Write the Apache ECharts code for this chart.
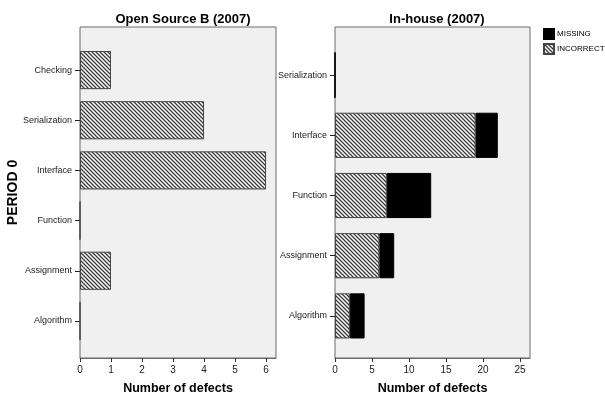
<!DOCTYPE html>
<html>
<head>
<meta charset="utf-8">
<script src="https://cdn.jsdelivr.net/npm/echarts@6/dist/echarts.min.js"></script>
<style>
  html, body { margin: 0; padding: 0; background: #fff; }
  #chart { width: 605px; height: 400px; }
</style>
</head>
<body>
<div id="chart"></div>
<script>
// Defect counts by category, period 0
const leftTitle = 'Open Source B (2007)';
const rightTitle = 'In-house (2007)';
const leftCategories = ['Checking', 'Serialization', 'Interface', 'Function', 'Assignment', 'Algorithm'];
const leftIncorrect = [1, 4, 6, 0, 1, 0];
const rightCategories = ['Serialization', 'Interface', 'Function', 'Assignment', 'Algorithm'];
const rightIncorrect = [0, 19, 7, 6, 2];
const rightMissing = [0, 3, 6, 2, 2];
const leftTicks = [0, 1, 2, 3, 4, 5, 6];
const rightTicks = [0, 5, 10, 15, 20, 25];
const leftMax = 6.32;
const rightMax = 26.35;

// Diagonal hatch fill for the INCORRECT bars
function makeHatch() {
  const s = 4;
  const c = document.createElement('canvas');
  c.width = s; c.height = s;
  const g = c.getContext('2d');
  g.fillStyle = '#ffffff';
  g.fillRect(0, 0, s, s);
  g.strokeStyle = '#3a3a3a';
  g.lineWidth = 1.3;
  g.beginPath();
  g.moveTo(-1, -1); g.lineTo(s + 1, s + 1);
  g.moveTo(-1, s - 1); g.lineTo(1, s + 1);
  g.moveTo(s - 1, -1); g.lineTo(s + 1, 1);
  g.stroke();
  return c;
}
const hatchFill = { image: makeHatch(), repeat: 'repeat' };

const font = 'Liberation Sans, Arial, sans-serif';
const frameColor = '#6a6a6a';

function frameXAxis(gridIndex, max, ticks) {
  return {
    gridIndex, type: 'value', min: 0, max,
    name: 'Number of defects', nameLocation: 'middle', nameGap: 24,
    nameTextStyle: { fontFamily: font, fontSize: 12.5, fontWeight: 'bold', color: '#000' },
    axisLine: { show: true, lineStyle: { color: frameColor, width: 1 } },
    axisTick: { show: true, length: 4, customValues: ticks, lineStyle: { color: '#333' } },
    axisLabel: { show: true, customValues: ticks, margin: 7, fontFamily: font, fontSize: 10, color: '#222' },
    splitLine: { show: false }
  };
}
function dataXAxis(gridIndex, max) {
  return { gridIndex, type: 'value', min: 0, max, show: false, splitLine: { show: false } };
}
function catYAxis(gridIndex, cats) {
  return {
    gridIndex, type: 'category', data: cats, inverse: true,
    axisLine: { show: false },
    axisTick: { show: true, alignWithLabel: true, length: 5, lineStyle: { color: '#222' } },
    axisLabel: { fontFamily: font, fontSize: 9, color: '#222', margin: 8 },
    splitLine: { show: false }
  };
}

const barBorder = { borderColor: '#444', borderWidth: 1 };

const option = {
  animation: false,
  backgroundColor: '#ffffff',
  title: [
    { text: leftTitle, left: 178, top: 8, textAlign: 'center',
      textStyle: { fontFamily: font, fontSize: 13, fontWeight: 'bold', color: '#000' } },
    { text: rightTitle, left: 432, top: 8, textAlign: 'center',
      textStyle: { fontFamily: font, fontSize: 13, fontWeight: 'bold', color: '#000' } }
  ],
  legend: {
    data: ['MISSING', 'INCORRECT'],
    orient: 'vertical', left: 543, top: 28, padding: 0,
    itemWidth: 10, itemHeight: 10, itemGap: 3,
    icon: 'rect',
    textStyle: { fontFamily: font, fontSize: 8, color: '#000', padding: [0, 0, 0, -2] },
    selectedMode: false
  },
  grid: [
    { left: 80, top: 27, width: 196, height: 335, show: true, backgroundColor: '#f0f0f0', borderColor: frameColor, borderWidth: 1 },
    { left: 80, top: 45, width: 196, height: 301 },
    { left: 335, top: 27, width: 195, height: 335, show: true, backgroundColor: '#f0f0f0', borderColor: frameColor, borderWidth: 1 },
    { left: 335, top: 45, width: 195, height: 301 }
  ],
  xAxis: [
    frameXAxis(0, leftMax, leftTicks),
    dataXAxis(1, leftMax),
    frameXAxis(2, rightMax, rightTicks),
    dataXAxis(3, rightMax)
  ],
  yAxis: [
    { gridIndex: 0, type: 'value', min: 0, max: 1,
      name: 'PERIOD 0', nameLocation: 'middle', nameRotate: 90, nameGap: 60,
      nameTextStyle: { fontFamily: font, fontSize: 14, fontWeight: 'bold', color: '#000' },
      axisLine: { show: false }, axisTick: { show: false }, axisLabel: { show: false }, splitLine: { show: false } },
    catYAxis(1, leftCategories),
    { gridIndex: 2, type: 'value', min: 0, max: 1, show: false, splitLine: { show: false } },
    catYAxis(3, rightCategories)
  ],
  series: [
    { name: 'INCORRECT', type: 'bar', xAxisIndex: 1, yAxisIndex: 1, data: leftIncorrect,
      barCategoryGap: '24%', itemStyle: Object.assign({ color: hatchFill }, barBorder) },
    { name: 'INCORRECT', type: 'bar', stack: 'r', xAxisIndex: 3, yAxisIndex: 3, data: rightIncorrect,
      barCategoryGap: '25%', itemStyle: Object.assign({ color: hatchFill }, barBorder) },
    { name: 'MISSING', type: 'bar', stack: 'r', xAxisIndex: 3, yAxisIndex: 3, data: rightMissing,
      barCategoryGap: '25%', itemStyle: { color: '#000', borderColor: '#000', borderWidth: 1 } }
  ]
};

const chart = echarts.init(document.getElementById('chart'), null, { renderer: 'canvas' });
chart.setOption(option);
</script>
</body>
</html>
